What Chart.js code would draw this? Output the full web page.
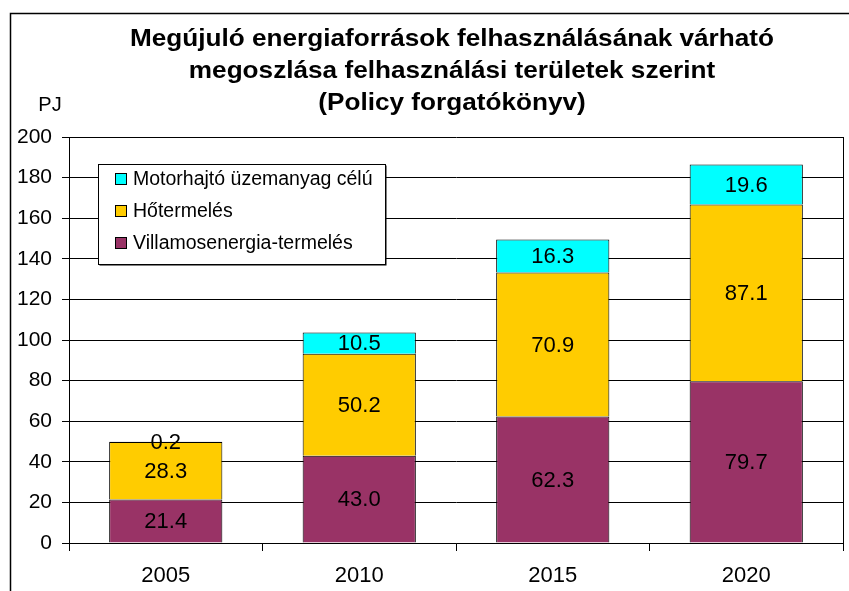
<!DOCTYPE html>
<html>
<head>
<meta charset="utf-8">
<script src="https://cdn.jsdelivr.net/npm/chart.js@4/dist/chart.umd.min.js"></script>
<style>
  html, body { margin: 0; padding: 0; background: #fff; }
  #wrap { width: 849px; height: 591px; }
</style>
</head>
<body>
<div id="wrap"><canvas id="chart"></canvas></div>
<script>
const years = ['2005', '2010', '2015', '2020'];
const villamos = [21.4, 43.0, 62.3, 79.7];
const hotermeles = [28.3, 50.2, 70.9, 87.1];
const motor = [0.2, 10.5, 16.3, 19.6];
const titleLines = [
    'Megújuló energiaforrások felhasználásának várható',
    'megoszlása felhasználási területek szerint',
    '(Policy forgatókönyv)'
];

const FONT = '"Liberation Sans", Arial, sans-serif';

// keret, cím, PJ felirat, jobb oldali vonal
const framePlugin = {
    id: 'frame',
    beforeDraw(chart) {
        const ctx = chart.ctx;
        ctx.save();
        ctx.fillStyle = '#fff';
        ctx.fillRect(0, 0, chart.width, chart.height);
        ctx.strokeStyle = '#000';
        ctx.lineWidth = 1.5;
        ctx.beginPath();
        ctx.moveTo(10.5, chart.height);
        ctx.lineTo(10.5, 13.5);
        ctx.lineTo(chart.width, 13.5);
        ctx.stroke();
        ctx.restore();
    },
    afterDraw(chart) {
        const ctx = chart.ctx;
        const a = chart.chartArea;
        ctx.save();
        ctx.strokeStyle = '#000';
        ctx.lineWidth = 1;
        ctx.beginPath();
        ctx.moveTo(Math.round(a.right) + 0.5, a.top);
        ctx.lineTo(Math.round(a.right) + 0.5, a.bottom);
        ctx.stroke();

        ctx.fillStyle = '#000';
        ctx.textAlign = 'center';
        ctx.textBaseline = 'middle';
        ctx.font = 'bold 24px ' + FONT;
        titleLines.forEach((t, i) => {
            ctx.save();
            ctx.translate(452, 39 + i * 32);
            ctx.scale(1.09, 1);
            ctx.fillText(t, 0, 0);
            ctx.restore();
        });

        ctx.font = '20px ' + FONT;
        ctx.fillText('PJ', 50, 105);
        ctx.restore();
    }
};

// értékek a sávokban
const labelPlugin = {
    id: 'barLabels',
    afterDatasetsDraw(chart) {
        const ctx = chart.ctx;
        ctx.save();
        ctx.fillStyle = '#000';
        ctx.font = '22px ' + FONT;
        ctx.textAlign = 'center';
        ctx.textBaseline = 'middle';
        chart.data.datasets.forEach((ds, i) => {
            chart.getDatasetMeta(i).data.forEach((bar, j) => {
                const y = (bar.y + bar.base) / 2;
                ctx.fillText(ds.data[j].toFixed(1), bar.x, y + 1);
            });
        });
        ctx.restore();
    }
};

// jelmagyarázat keretben
const legendBoxPlugin = {
    id: 'legendBox',
    afterDraw(chart) {
        const ctx = chart.ctx;
        const x = 98.5, y = 164.5, w = 287, h = 100;
        ctx.save();
        ctx.fillStyle = '#000';
        ctx.fillRect(x + 1, y + 1, w, h);
        ctx.fillStyle = '#fff';
        ctx.fillRect(x, y, w, h);
        ctx.strokeStyle = '#000';
        ctx.lineWidth = 1;
        ctx.strokeRect(x, y, w, h);
        ctx.font = '19.5px ' + FONT;
        ctx.textBaseline = 'middle';
        const items = chart.data.datasets.slice().reverse();
        const rows = [179, 211, 243];
        items.forEach((ds, i) => {
            ctx.fillStyle = ds.backgroundColor;
            ctx.fillRect(115.5, rows[i] - 5.5, 11, 11);
            ctx.strokeRect(115.5, rows[i] - 5.5, 11, 11);
            ctx.fillStyle = '#000';
            ctx.fillText(ds.label, 133, rows[i] + 1);
        });
        ctx.restore();
    }
};

new Chart(document.getElementById('chart'), {
    type: 'bar',
    data: {
        labels: years,
        datasets: [
            { label: 'Villamosenergia-termelés', data: villamos, backgroundColor: '#993366' },
            { label: 'Hőtermelés', data: hotermeles, backgroundColor: '#FFCC00' },
            { label: 'Motorhajtó üzemanyag célú', data: motor, backgroundColor: '#00FFFF' }
        ]
    },
    options: {
        responsive: true,
        maintainAspectRatio: false,
        animation: false,
        layout: { padding: { left: 0, right: 6, top: 137, bottom: 0 } },
        datasets: {
            bar: {
                borderColor: '#000',
                borderWidth: 1,
                categoryPercentage: 1,
                barPercentage: 0.585
            }
        },
        plugins: {
            legend: { display: false },
            tooltip: { enabled: false },
            title: { display: false }
        },
        scales: {
            x: {
                stacked: true,
                afterFit(scale) { scale.height = 48; },
                grid: {
                    offset: true,
                    drawOnChartArea: false,
                    color: '#000',
                    tickLength: 8
                },
                border: { color: '#000' },
                ticks: { color: '#000', font: { family: FONT, size: 22 }, padding: 12 }
            },
            y: {
                stacked: true,
                min: 0,
                max: 200,
                afterFit(scale) { scale.width = 69; },
                grid: { color: '#000', tickLength: 7 },
                border: { color: '#000' },
                ticks: { stepSize: 20, color: '#000', font: { family: FONT, size: 21 }, padding: 10 }
            }
        }
    },
    plugins: [framePlugin, labelPlugin, legendBoxPlugin]
});
</script>
</body>
</html>
